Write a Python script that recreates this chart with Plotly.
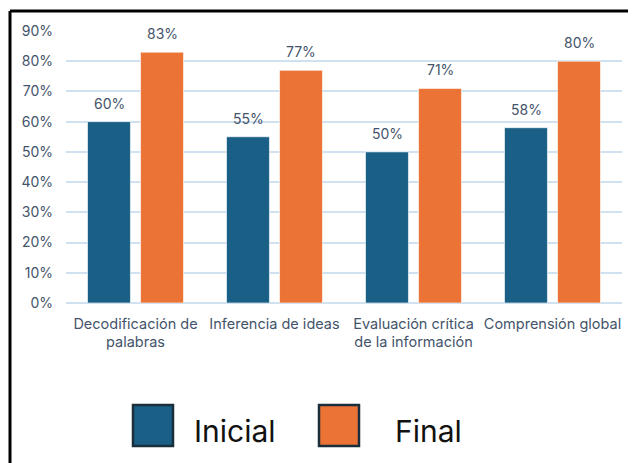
import plotly.graph_objects as go

categories = ["Decodificación de<br>palabras", "Inferencia de ideas",
              "Evaluación crítica<br>de la información", "Comprensión global"]
series_names = ["Inicial", "Final"]
inicial = [0.60, 0.55, 0.50, 0.58]
final = [0.83, 0.77, 0.71, 0.80]
y_ticks = [0.0, 0.1, 0.2, 0.3, 0.4, 0.5, 0.6, 0.7, 0.8, 0.9]

OFF = 8  # page body margin
W, H = 636 - OFF, 463 - OFF
ML, MR, MT, MB = 66 - OFF, 14, 31 - OFF, 160
PW, PH = W - ML - MR, H - MT - MB

BLUE = "#1a6086"
ORANGE = "#ec7336"
TXT = "#44546a"
GRID = "#d0e1f2"
FONT = "Inter, Liberation Sans, sans-serif"

def px2x(px):
    return (px - OFF - ML) / PW

def py2y(py):
    return (H + OFF - MB - py) / PH

fig = go.Figure()
for name, vals, col in [(series_names[0], inicial, BLUE), (series_names[1], final, ORANGE)]:
    fig.add_trace(go.Bar(
        name=name, x=categories, y=vals,
        marker=dict(color=col, line=dict(color="rgba(255,255,255,0.6)", width=1)),
        showlegend=False,
    ))

annotations = []
for vals, shift in [(inicial, -26.5), (final, 26.5)]:
    for c, v in zip(categories, vals):
        annotations.append(dict(
            x=c, y=v, xref="x", yref="y", xshift=shift, yshift=8,
            text=f"{round(v*100)}%", showarrow=False, yanchor="bottom",
            font=dict(family=FONT, size=14, color=TXT)))

# manual legend (large swatches)
shapes = []
leg = [(series_names[0], BLUE, 133, 194), (series_names[1], ORANGE, 319, 395)]
for name, col, sx, tx in leg:
    shapes.append(dict(type="rect", xref="paper", yref="paper",
                       x0=px2x(sx), x1=px2x(sx + 40), y0=py2y(446), y1=py2y(405),
                       fillcolor=col, line=dict(color="#1a2e3b", width=2.5)))
    annotations.append(dict(x=px2x(tx - 2), y=py2y(431), xref="paper", yref="paper",
                            xanchor="left", yanchor="middle", showarrow=False,
                            text=name, font=dict(family=FONT, size=30, color="#111111")))

# outer frame (left and top edges)
shapes.append(dict(type="line", xref="paper", yref="paper",
                   x0=px2x(10), x1=px2x(10), y0=py2y(11), y1=py2y(470),
                   line=dict(color="black", width=3)))
shapes.append(dict(type="line", xref="paper", yref="paper",
                   x0=px2x(10), x1=px2x(645), y0=py2y(11), y1=py2y(11),
                   line=dict(color="black", width=3)))

fig.update_layout(
    width=W, height=H,
    margin=dict(l=ML, r=MR, t=MT, b=MB),
    paper_bgcolor="white", plot_bgcolor="white",
    barmode="group", bargap=0.237, bargroupgap=0.19,
    font=dict(family=FONT, color=TXT),
    annotations=annotations, shapes=shapes,
    xaxis=dict(showgrid=False, showline=False, ticks="", zeroline=False,
               tickfont=dict(family=FONT, size=14.5, color=TXT),
               ticklabelstandoff=10),
    yaxis=dict(range=[0, 0.9], tickvals=y_ticks, tickformat=".0%",
               showgrid=True, gridcolor=GRID, gridwidth=2,
               zeroline=True, zerolinecolor=GRID, zerolinewidth=2,
               showline=False, ticks="", ticklabelstandoff=12,
               tickfont=dict(family=FONT, size=14, color=TXT)),
)

fig.write_html("out.html")
